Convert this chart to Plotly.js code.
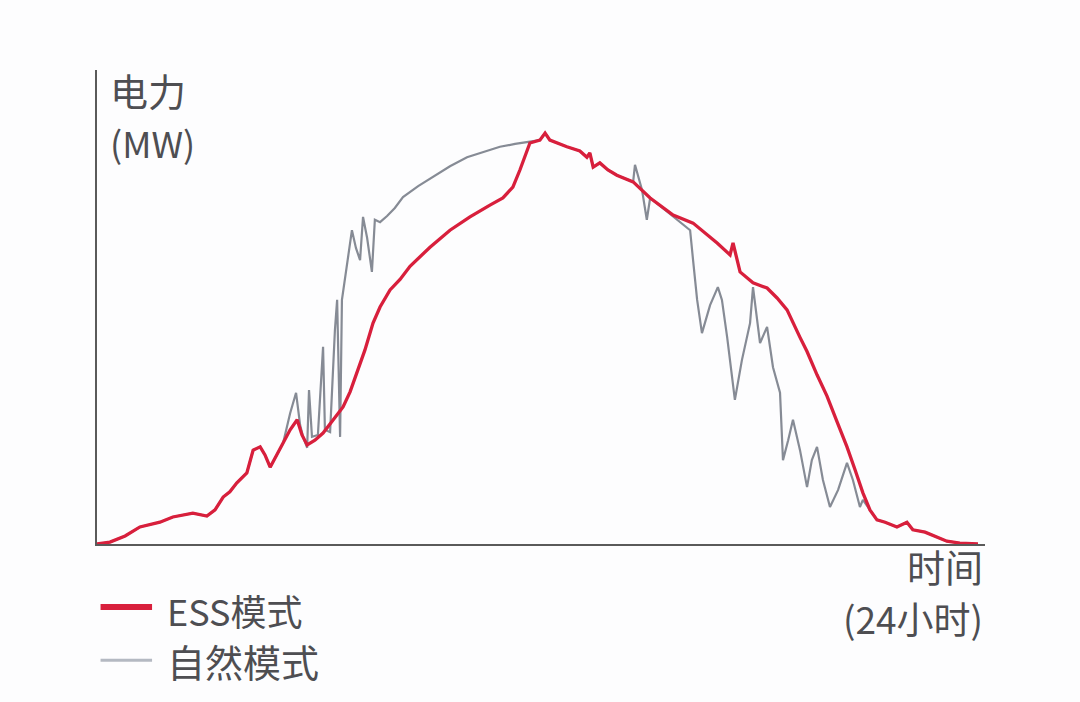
<!DOCTYPE html>
<html>
<head>
<meta charset="utf-8">
<script src="https://cdn.plot.ly/plotly-3.0.1.min.js"></script>
<style>
  html, body { margin: 0; padding: 0; background: #fdfdfe; }
  #chart { width: 1080px; height: 702px; }
</style>
</head>
<body>
<div id="chart"></div>
<script>
// ESS mode (hours, MW)
const essHours = [0, 0.35, 0.76, 1.16, 1.70, 2.05, 2.59, 2.97, 3.19, 3.41, 3.59, 3.78, 4.05, 4.22, 4.41, 4.54, 4.68,
	5.03, 5.22, 5.41, 5.54, 5.68, 5.89, 6.11, 6.38, 6.65, 6.84, 7.03, 7.24, 7.46, 7.65, 7.92, 8.19, 8.46, 9.00,
	9.54, 10.08, 10.62, 10.97, 11.24, 11.43, 11.70, 11.97, 12.11, 12.24, 12.70, 13.05, 13.24, 13.32, 13.41, 13.59,
	13.81, 14.05, 14.49, 14.95, 15.57, 16.11, 16.76, 17.11, 17.19, 17.38, 17.73, 18.11, 18.38, 18.65, 19.00, 19.19,
	19.46, 19.73, 20.00, 20.27, 20.49, 20.70, 20.89, 21.08, 21.30, 21.62, 21.89, 22.05, 22.38, 22.70, 22.97, 23.32, 23.81];
const essMW = [0, 0.4, 1.7, 3.6, 4.6, 5.7, 6.5, 5.9, 7.2, 9.9, 11.0, 12.9, 15.0, 19.8, 20.5, 18.8, 16.2,
	21.3, 24.1, 26.2, 23.0, 20.9, 21.9, 23.4, 26.2, 28.9, 32.1, 36.1, 40.9, 46.6, 50.0, 53.6, 55.8, 58.6, 62.6,
	66.2, 69.0, 71.5, 73.0, 75.3, 78.9, 84.6, 85.2, 86.7, 85.2, 83.8, 82.9, 81.6, 82.5, 79.5, 80.4,
	78.9, 77.8, 76.4, 73.0, 69.4, 67.7, 63.5, 61.0, 63.5, 57.4, 55.1, 54.0, 51.9, 49.4, 43.6, 40.6,
	35.7, 31.2, 25.8, 20.5, 15.6, 10.8, 7.2, 5.1, 4.6, 3.6, 4.6, 3.0, 2.5, 1.5, 0.6, 0.2, 0];

// natural mode (hours, MW)
const naturalHours = [0, 0.35, 0.76, 1.16, 1.70, 2.05, 2.59, 2.97, 3.19, 3.41, 3.59, 3.78, 4.05, 4.22, 4.41, 4.54, 4.68,
	5.03, 5.22, 5.38, 5.49, 5.57, 5.68, 5.73, 5.81, 5.97, 6.11, 6.16, 6.30, 6.43, 6.49, 6.57, 6.62, 6.70, 6.81,
	6.89, 7.00, 7.11, 7.19, 7.30, 7.43, 7.51, 7.65, 7.84, 8.05, 8.27, 8.68, 9.08, 9.54, 10.00, 10.49, 10.89,
	11.30, 11.62, 11.97, 12.11, 12.24, 12.70, 13.05, 13.24, 13.32, 13.41, 13.59, 13.81, 14.05, 14.49, 14.54,
	14.73, 14.86, 14.95, 15.57, 16.03, 16.11, 16.22, 16.35, 16.57, 16.78, 16.89, 17.03, 17.24, 17.43, 17.65,
	17.73, 17.84, 17.92, 18.11, 18.27, 18.46, 18.54, 18.68, 18.81, 19.00, 19.19, 19.32, 19.46, 19.62, 19.81,
	20.03, 20.27, 20.43, 20.62, 20.70, 20.89, 21.08, 21.30, 21.62, 21.89, 22.05, 22.38, 22.70, 22.97, 23.32, 23.81];
const naturalMW = [0, 0.4, 1.7, 3.6, 4.6, 5.7, 6.5, 5.9, 7.2, 9.9, 11.0, 12.9, 15.0, 19.8, 20.5, 18.8, 16.2,
	21.3, 27.6, 31.9, 25.1, 22.6, 20.3, 32.5, 22.6, 23.0, 41.6, 24.1, 23.6, 45.1, 51.5, 22.6, 51.5, 55.7, 62.0,
	66.2, 62.4, 59.9, 69.0, 64.6, 57.4, 68.4, 67.9, 69.2, 70.9, 73.2, 75.5, 77.4, 79.7, 81.6, 82.9, 83.8,
	84.4, 84.8, 85.2, 86.7, 85.2, 83.8, 82.9, 81.6, 82.5, 79.5, 80.4, 78.9, 77.8, 76.4, 80.0,
	74.7, 68.4, 73.0, 69.0, 66.2, 59.9, 51.5, 44.5, 50.4, 54.2, 51.5, 43.7, 30.4, 38.8, 46.6,
	54.2, 47.3, 42.4, 45.8, 37.3, 31.9, 17.7, 21.9, 26.2, 19.8, 12.0, 17.7, 20.5, 13.5, 7.8,
	11.4, 17.1, 13.5, 7.8, 9.3, 7.2, 5.1, 4.6, 3.6, 4.6, 3.0, 2.5, 1.5, 0.6, 0.2, 0];

const seriesNames = ['ESS模式', '自然模式'];
const axisLabels = { y: ['电力', '(MW)'], x: ['时间', '(24小时)'] };

const textColor = '#4e4e52';
const font = 'Noto Sans CJK SC, Noto Sans, sans-serif';
const essColor = '#d81f3c';
const naturalColor = '#868b95';

const traceNatural = {
	x: naturalHours,
	y: naturalMW,
	type: 'scatter',
	mode: 'lines',
	name: seriesNames[1],
	line: { color: naturalColor, width: 2.2 },
	hoverinfo: 'skip',
};

const traceEss = {
	x: essHours,
	y: essMW,
	type: 'scatter',
	mode: 'lines',
	name: seriesNames[0],
	line: { color: essColor, width: 3.3 },
	hoverinfo: 'skip',
};

function label(text, x, y, xanchor, size) {
	return {
		text, x, y, xref: 'paper', yref: 'paper', xanchor, yanchor: 'middle',
		showarrow: false, font: { family: font, size, color: textColor },
	};
}

const layout = {
	width: 1080,
	height: 702,
	margin: { l: 97, r: 95, t: 70, b: 158 },
	paper_bgcolor: '#fdfdfe',
	plot_bgcolor: '#fdfdfe',
	showlegend: false,
	xaxis: {
		range: [0, 24],
		showgrid: false, zeroline: false, showticklabels: false, ticks: '',
		showline: true, linecolor: '#5a5a5a', linewidth: 2,
	},
	yaxis: {
		range: [0, 100],
		showgrid: false, zeroline: false, showticklabels: false, ticks: '',
		showline: true, linecolor: '#5a5a5a', linewidth: 2,
	},
	annotations: [
		label(axisLabels.y[0], 0.012, 0.958, 'left', 38),
		label(axisLabels.y[1], 0.012, 0.848, 'left', 36),
		label(axisLabels.x[0], 1.0, -0.046, 'right', 38),
		label(axisLabels.x[1], 1.0, -0.156, 'right', 37),
		label(seriesNames[0], 0.077, -0.139, 'left', 36),
		label(seriesNames[1], 0.077, -0.245, 'left', 38),
	],
	// legend keys
	shapes: [
		{ type: 'line', xref: 'paper', yref: 'paper', x0: 0.004, x1: 0.062, y0: -0.133, y1: -0.133,
			line: { color: essColor, width: 6 } },
		{ type: 'line', xref: 'paper', yref: 'paper', x0: 0.004, x1: 0.062, y0: -0.245, y1: -0.245,
			line: { color: '#b4b9c2', width: 3 } },
	],
};

Plotly.newPlot('chart', [traceNatural, traceEss], layout, { displayModeBar: false, staticPlot: true });
</script>
</body>
</html>
